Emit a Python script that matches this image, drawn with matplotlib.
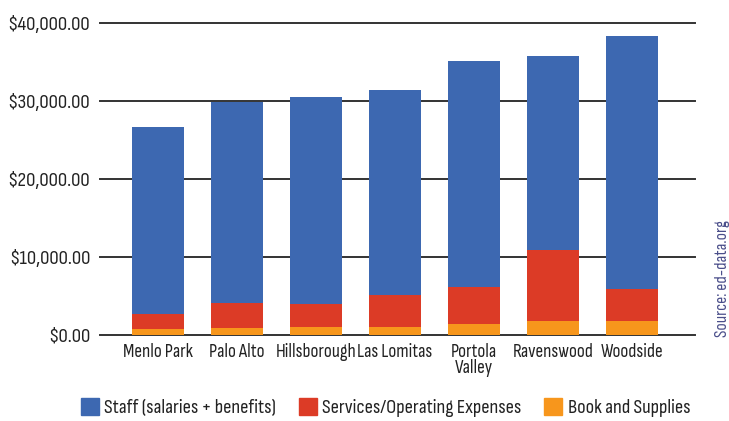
import matplotlib
matplotlib.use("Agg")
import matplotlib.pyplot as plt
from matplotlib.patches import Patch

plt.rcParams['font.family'] = ['Sofia Sans Condensed', 'DejaVu Sans']

districts = ["Menlo Park", "Palo Alto", "Hillsborough", "Las Lomitas",
             "Portola\nValley", "Ravenswood", "Woodside"]
books = [700, 830, 960, 960, 1350, 1730, 1730]
services = [1970, 3170, 2990, 4110, 4750, 9160, 4110]
staff = [23970, 25850, 26540, 26320, 29010, 24860, 32480]

series_names = ["Staff (salaries + benefits)", "Services/Operating Expenses", "Book and Supplies"]
colors = ["#3D68B1", "#DC3B26", "#F7961C"]
yticks = [0, 10000, 20000, 30000, 40000]

fig = plt.figure(figsize=(7.29, 4.21), dpi=100)
ax = fig.add_axes([100/729, 1-334.5/421, 595/729, (334.5-23)/421])

x = list(range(len(districts)))
w = 0.66
ax.bar(x, books, w, color=colors[2], zorder=3)
bottom2 = books
ax.bar(x, services, w, bottom=bottom2, color=colors[1], zorder=3)
bottom3 = [a + b for a, b in zip(books, services)]
ax.bar(x, staff, w, bottom=bottom3, color=colors[0], zorder=3)

ax.set_xlim(-0.734, 6.80)
ax.set_ylim(0, 40000)
ax.set_yticks(yticks)
ax.set_yticklabels([f"${v:,.2f}" for v in yticks], fontsize=15)
ax.set_xticks(x)
ax.set_xticklabels(districts, linespacing=0.9, fontsize=13.8)

for v in yticks:
    ax.axhline(v, color="#333333", lw=1.4, zorder=1, clip_on=False)

for s in ax.spines.values():
    s.set_visible(False)
ax.tick_params(axis='both', length=0, colors="#222222")
ax.tick_params(axis='y', pad=7)
ax.tick_params(axis='x', pad=6)

handles = [Patch(color=c) for c in colors]
fig.legend(handles, series_names, loc='center', bbox_to_anchor=(385.5/729, 0.032),
           ncol=3, frameon=False, fontsize=14.7, handlelength=0.88, handleheight=0.88,
           handletextpad=0.25, columnspacing=1.13, labelcolor="#222222")

fig.text(723/729, 1-337/421, "Source: ed-data.org", rotation=90, ha='center', va='bottom',
         fontsize=12.6, color="#4a4e8a")

fig.savefig("out.png", dpi=100)
